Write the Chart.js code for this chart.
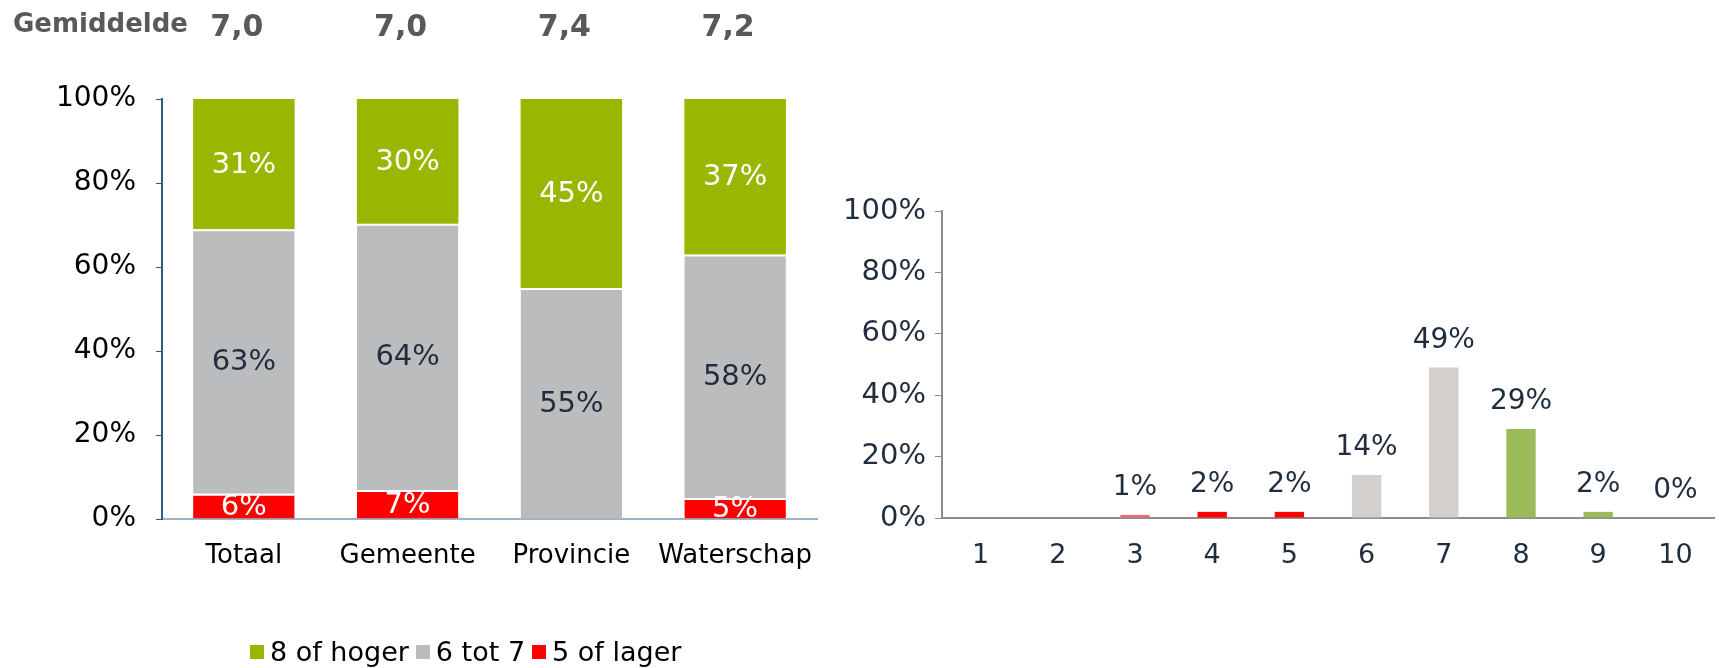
<!DOCTYPE html>
<html lang="nl">
<head>
<meta charset="utf-8">
<title>Rapportcijfer</title>
<script src="https://cdn.jsdelivr.net/npm/chart.js@4.4.1/dist/chart.umd.min.js"></script>
<style>
  html, body { margin: 0; padding: 0; background: #fff; }
  body {
    width: 1719px; height: 668px; position: relative; overflow: hidden;
    font-family: "DejaVu Sans", sans-serif;
  }
  #leftChart { position: absolute; left: 0; top: 0; }
  #rightChart { position: absolute; left: 820px; top: 0; }
  .legend {
    position: absolute; left: 250px; top: 636px;
    display: flex; align-items: center;
    font-size: 27px; line-height: 32px; color: #000;
  }
  .legend .item { display: flex; align-items: center; margin-right: 7px; }
  .legend .box { width: 14px; height: 14px; margin-right: 6px; }
</style>
</head>
<body>

<canvas id="leftChart" width="860" height="668"></canvas>
<canvas id="rightChart" width="899" height="668"></canvas>

<div class="legend" id="legend"></div>

<script>
// ========================
// DATA
// ========================

const categorieen = ['Totaal', 'Gemeente', 'Provincie', 'Waterschap'];
const gemiddelden = ['7,0', '7,0', '7,4', '7,2'];

const hoog = [31, 30, 45, 37];    // 8 of hoger
const midden = [63, 64, 55, 58];  // 6 tot 7
const laag = [6, 7, 0, 5];        // 5 of lager

const cijfers = ['1', '2', '3', '4', '5', '6', '7', '8', '9', '10'];
const verdeling = [null, null, 1, 2, 2, 14, 49, 29, 2, 0];

const FONT = '"DejaVu Sans", sans-serif';
const DONKER = '#1f2d3d';

// kleuren
const GROEN = '#99b700';
const GRIJS = '#bbbcbe';
const ROOD = '#ff0000';

const staafKleuren = [
  ROOD, ROOD, '#f26a6a', ROOD, ROOD,
  '#d3cfcc', '#d3cfcc', '#9bbb59', '#9bbb59', '#9bbb59'
];

// 100% gestapeld: elke kolom naar 100 schalen
const totalen = categorieen.map((c, i) => hoog[i] + midden[i] + laag[i]);
const naarProcent = arr => arr.map((v, i) => v / totalen[i] * 100);

// witte scheidingslijn bovenop een segment
const scheiding = { top: 2, right: 0, bottom: 0, left: 0 };


// ========================
// LABELS IN / BOVEN STAVEN
// ========================

const staafLabels = {
  id: 'staafLabels',
  afterDatasetsDraw(chart, args, opts) {
    const ctx = chart.ctx;
    ctx.save();
    ctx.font = opts.grootte + 'px ' + FONT;
    ctx.textAlign = 'center';
    ctx.textBaseline = 'middle';

    chart.data.datasets.forEach((ds, di) => {
      const meta = chart.getDatasetMeta(di);
      const ruw = ds.ruw || ds.data;
      meta.data.forEach((bar, i) => {
        const v = ruw[i];
        if (v === null || v === undefined) return;
        if (opts.boven) {
          ctx.fillStyle = DONKER;
          ctx.fillText(v + '%', bar.x, bar.y - 27);
        } else {
          if (!v) return;
          ctx.fillStyle = ds.labelKleur;
          ctx.fillText(v + '%', bar.x, (bar.y + bar.base) / 2 + 1);
        }
      });
    });
    ctx.restore();
  }
};

// rij "Gemiddelde" boven de staven
const gemiddeldeRij = {
  id: 'gemiddeldeRij',
  afterDraw(chart) {
    const ctx = chart.ctx;
    const x = chart.scales.x;
    ctx.save();
    ctx.fillStyle = '#595959';
    ctx.textBaseline = 'middle';
    ctx.font = 'bold 26px ' + FONT;
    ctx.textAlign = 'left';
    ctx.fillText('Gemiddelde', 13, 25);
    ctx.font = 'bold 30px ' + FONT;
    ctx.textAlign = 'center';
    gemiddelden.forEach((g, i) => {
      ctx.fillText(g, x.getPixelForValue(i) - 7, 28);
    });
    ctx.restore();
  }
};


// ========================
// LINKS: GESTAPELD 100%
// ========================

new Chart(document.getElementById('leftChart'), {
  type: 'bar',
  data: {
    labels: categorieen,
    datasets: [
      { label: '5 of lager', data: naarProcent(laag), ruw: laag, backgroundColor: ROOD, labelKleur: '#fff', borderWidth: scheiding },
      { label: '6 tot 7', data: naarProcent(midden), ruw: midden, backgroundColor: GRIJS, labelKleur: DONKER, borderWidth: scheiding },
      { label: '8 of hoger', data: naarProcent(hoog), ruw: hoog, backgroundColor: GROEN, labelKleur: '#fff', borderWidth: 0 }
    ]
  },
  options: {
    responsive: false,
    animation: false,
    layout: { padding: { top: 99, right: 43, bottom: 0, left: 0 } },
    datasets: {
      bar: {
        barPercentage: 0.62,
        categoryPercentage: 1,
        borderColor: '#fff',
        borderSkipped: false
      }
    },
    plugins: {
      legend: { display: false },
      tooltip: { enabled: false },
      staafLabels: { boven: false, grootte: 29 }
    },
    scales: {
      x: {
        stacked: true,
        grid: { display: false, drawTicks: false },
        border: { color: '#9fb3c2', width: 2 },
        ticks: {
          color: '#000',
          font: { size: 26, family: FONT },
          padding: 22,
          maxRotation: 0,
          minRotation: 0,
          autoSkip: false
        },
        afterFit: s => { s.height = 149; }
      },
      y: {
        stacked: true,
        min: 0,
        max: 100,
        ticks: {
          stepSize: 20,
          callback: v => v + '%',
          color: '#000',
          font: { size: 28, family: FONT },
          padding: 20
        },
        grid: { drawOnChartArea: false, drawTicks: true, tickLength: 6, color: '#2f5f7f' },
        border: { color: '#2f5f7f', width: 2 },
        afterFit: s => { s.width = 162; }
      }
    }
  },
  plugins: [staafLabels, gemiddeldeRij]
});


// ========================
// RECHTS: VERDELING CIJFERS
// ========================

new Chart(document.getElementById('rightChart'), {
  type: 'bar',
  data: {
    labels: cijfers,
    datasets: [
      { label: 'Cijfer', data: verdeling, backgroundColor: staafKleuren }
    ]
  },
  options: {
    responsive: false,
    animation: false,
    layout: { padding: { top: 211, right: 5, bottom: 0, left: 0 } },
    datasets: {
      bar: { barPercentage: 0.38, categoryPercentage: 1 }
    },
    plugins: {
      legend: { display: false },
      tooltip: { enabled: false },
      staafLabels: { boven: true, grootte: 28 }
    },
    scales: {
      x: {
        grid: { display: false, drawTicks: false },
        border: { color: '#8c8c8c', width: 2 },
        ticks: {
          color: DONKER,
          font: { size: 27, family: FONT },
          padding: 22,
          maxRotation: 0,
          minRotation: 0,
          autoSkip: false
        },
        afterFit: s => { s.height = 150; }
      },
      y: {
        min: 0,
        max: 100,
        ticks: {
          stepSize: 20,
          callback: v => v + '%',
          color: DONKER,
          font: { size: 29, family: FONT },
          padding: 9
        },
        grid: { drawOnChartArea: false, drawTicks: true, tickLength: 7, color: '#8c8c8c' },
        border: { color: '#8c8c8c', width: 2 },
        afterFit: s => { s.width = 122; }
      }
    }
  },
  plugins: [staafLabels]
});


// ========================
// LEGENDA
// ========================

const legenda = [
  { tekst: '8 of hoger', kleur: GROEN },
  { tekst: '6 tot 7', kleur: GRIJS },
  { tekst: '5 of lager', kleur: ROOD }
];

const legendEl = document.getElementById('legend');
legenda.forEach(l => {
  const item = document.createElement('div');
  item.className = 'item';
  item.innerHTML = '<span class="box" style="background:' + l.kleur + '"></span>' + l.tekst;
  legendEl.appendChild(item);
});
</script>
</body>
</html>
